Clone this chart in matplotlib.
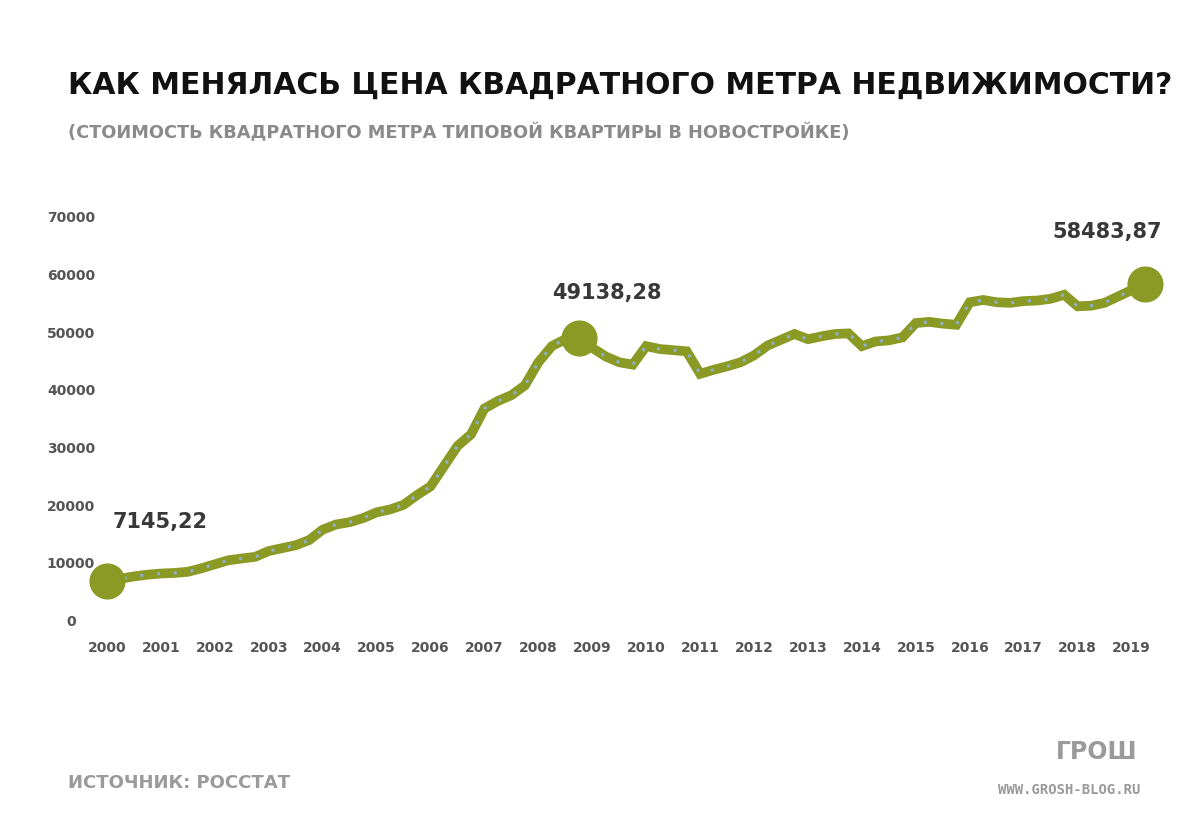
import matplotlib
matplotlib.use("Agg")
import matplotlib.pyplot as plt

years = [2000 + i * 0.25 for i in range(78)]
prices = [7145, 7500, 7900, 8200, 8400, 8500, 8700, 9300,
          10000, 10700, 11000, 11300, 12300, 12800, 13300, 14200,
          16000, 16900, 17300, 18000, 19000, 19500, 20300, 22000,
          23500, 27000, 30500, 32500, 37000, 38300, 39300, 41000,
          45000, 47800, 49000, 49138, 47500, 46000, 45000, 44600,
          47800, 47300, 47100, 46900, 43000, 43700, 44300, 45000,
          46200, 47900, 48900, 49900, 49000, 49500, 49900, 50000,
          47800, 48600, 48800, 49300, 51800, 52000, 51700, 51500,
          55400, 55800, 55400, 55300, 55600, 55700, 56000, 56700,
          54700, 54800, 55300, 56400, 57500, 58484]
highlight_idx = [0, 35, 77]
highlight_labels = ["7145,22", "49138,28", "58483,87"]
xticks = list(range(2000, 2020))
yticks = list(range(0, 70001, 10000))

FONT = "DejaVu Sans"
fig = plt.figure(figsize=(12, 8.3), dpi=100)
ax = fig.add_axes([107/1200, 208/830, (1145-107)/1200, (622-218)/830])
ax.set_xlim(2000, 2019.25)
ax.set_ylim(0, 70000)
for s in ax.spines.values():
    s.set_visible(False)

green = "#8a9a25"
ax.plot(years, prices, color=green, lw=7, solid_joinstyle="miter", clip_on=False, zorder=2)
ax.plot(years, prices, color="#8fb0c8", lw=2.2, ls=(0, (1, 4.5)), clip_on=False, zorder=3)
hx = [years[i] for i in highlight_idx]
hy = [prices[i] for i in highlight_idx]
ax.plot(hx, hy, "o", color=green, ms=25, clip_on=False, zorder=4)
offs = [(38, 42), (20, 33), (-27, 38)]
for x, y, t, (dx, dy) in zip(hx, hy, highlight_labels, offs):
    ax.annotate(t, (x, y), xytext=(dx, dy), textcoords="offset points", ha="center",
                va="center", fontsize=15, fontweight="bold", color="#383838", family=FONT)

ax.set_xticks(xticks)
ax.set_xticklabels([str(v) for v in xticks], fontsize=10, color="#555555", family=FONT, fontweight="bold")
ax.tick_params(axis="x", length=0, pad=14)
ax.set_yticks(yticks)
ax.set_yticklabels([])
ax.tick_params(axis="y", length=0)
for v in yticks:
    fig.text(71/1200, 1 - (622 - v / 10000 * 57.7) / 830, str(v), ha="center", va="center",
             fontsize=10, color="#555555", family=FONT, fontweight="bold")

fig.text(68/1200, 1 - 85/830, "КАК МЕНЯЛАСЬ ЦЕНА КВАДРАТНОГО МЕТРА НЕДВИЖИМОСТИ?", fontsize=21.5,
         fontweight="bold", family=FONT, color="#111111", va="center")
fig.text(68/1200, 1 - 133/830, "(СТОИМОСТЬ КВАДРАТНОГО МЕТРА ТИПОВОЙ КВАРТИРЫ В НОВОСТРОЙКЕ)",
         fontsize=12.8, fontweight="bold", family=FONT, color="#8a8a8a", va="center")
fig.text(68/1200, 1 - 783/830, "ИСТОЧНИК: РОССТАТ", fontsize=13, fontweight="bold", family=FONT,
         color="#9a9a9a", va="center")
fig.text(1137/1200, 1 - 752/830, "ГРОШ", fontsize=17, fontweight="bold", family=FONT,
         color="#9a9a9a", va="center", ha="right")
fig.text(1140/1200, 1 - 790/830, "WWW.GROSH-BLOG.RU", fontsize=10, fontweight="bold",
         family="DejaVu Sans Mono", color="#9a9a9a", va="center", ha="right")

fig.savefig("out.png", dpi=100, facecolor="white")
